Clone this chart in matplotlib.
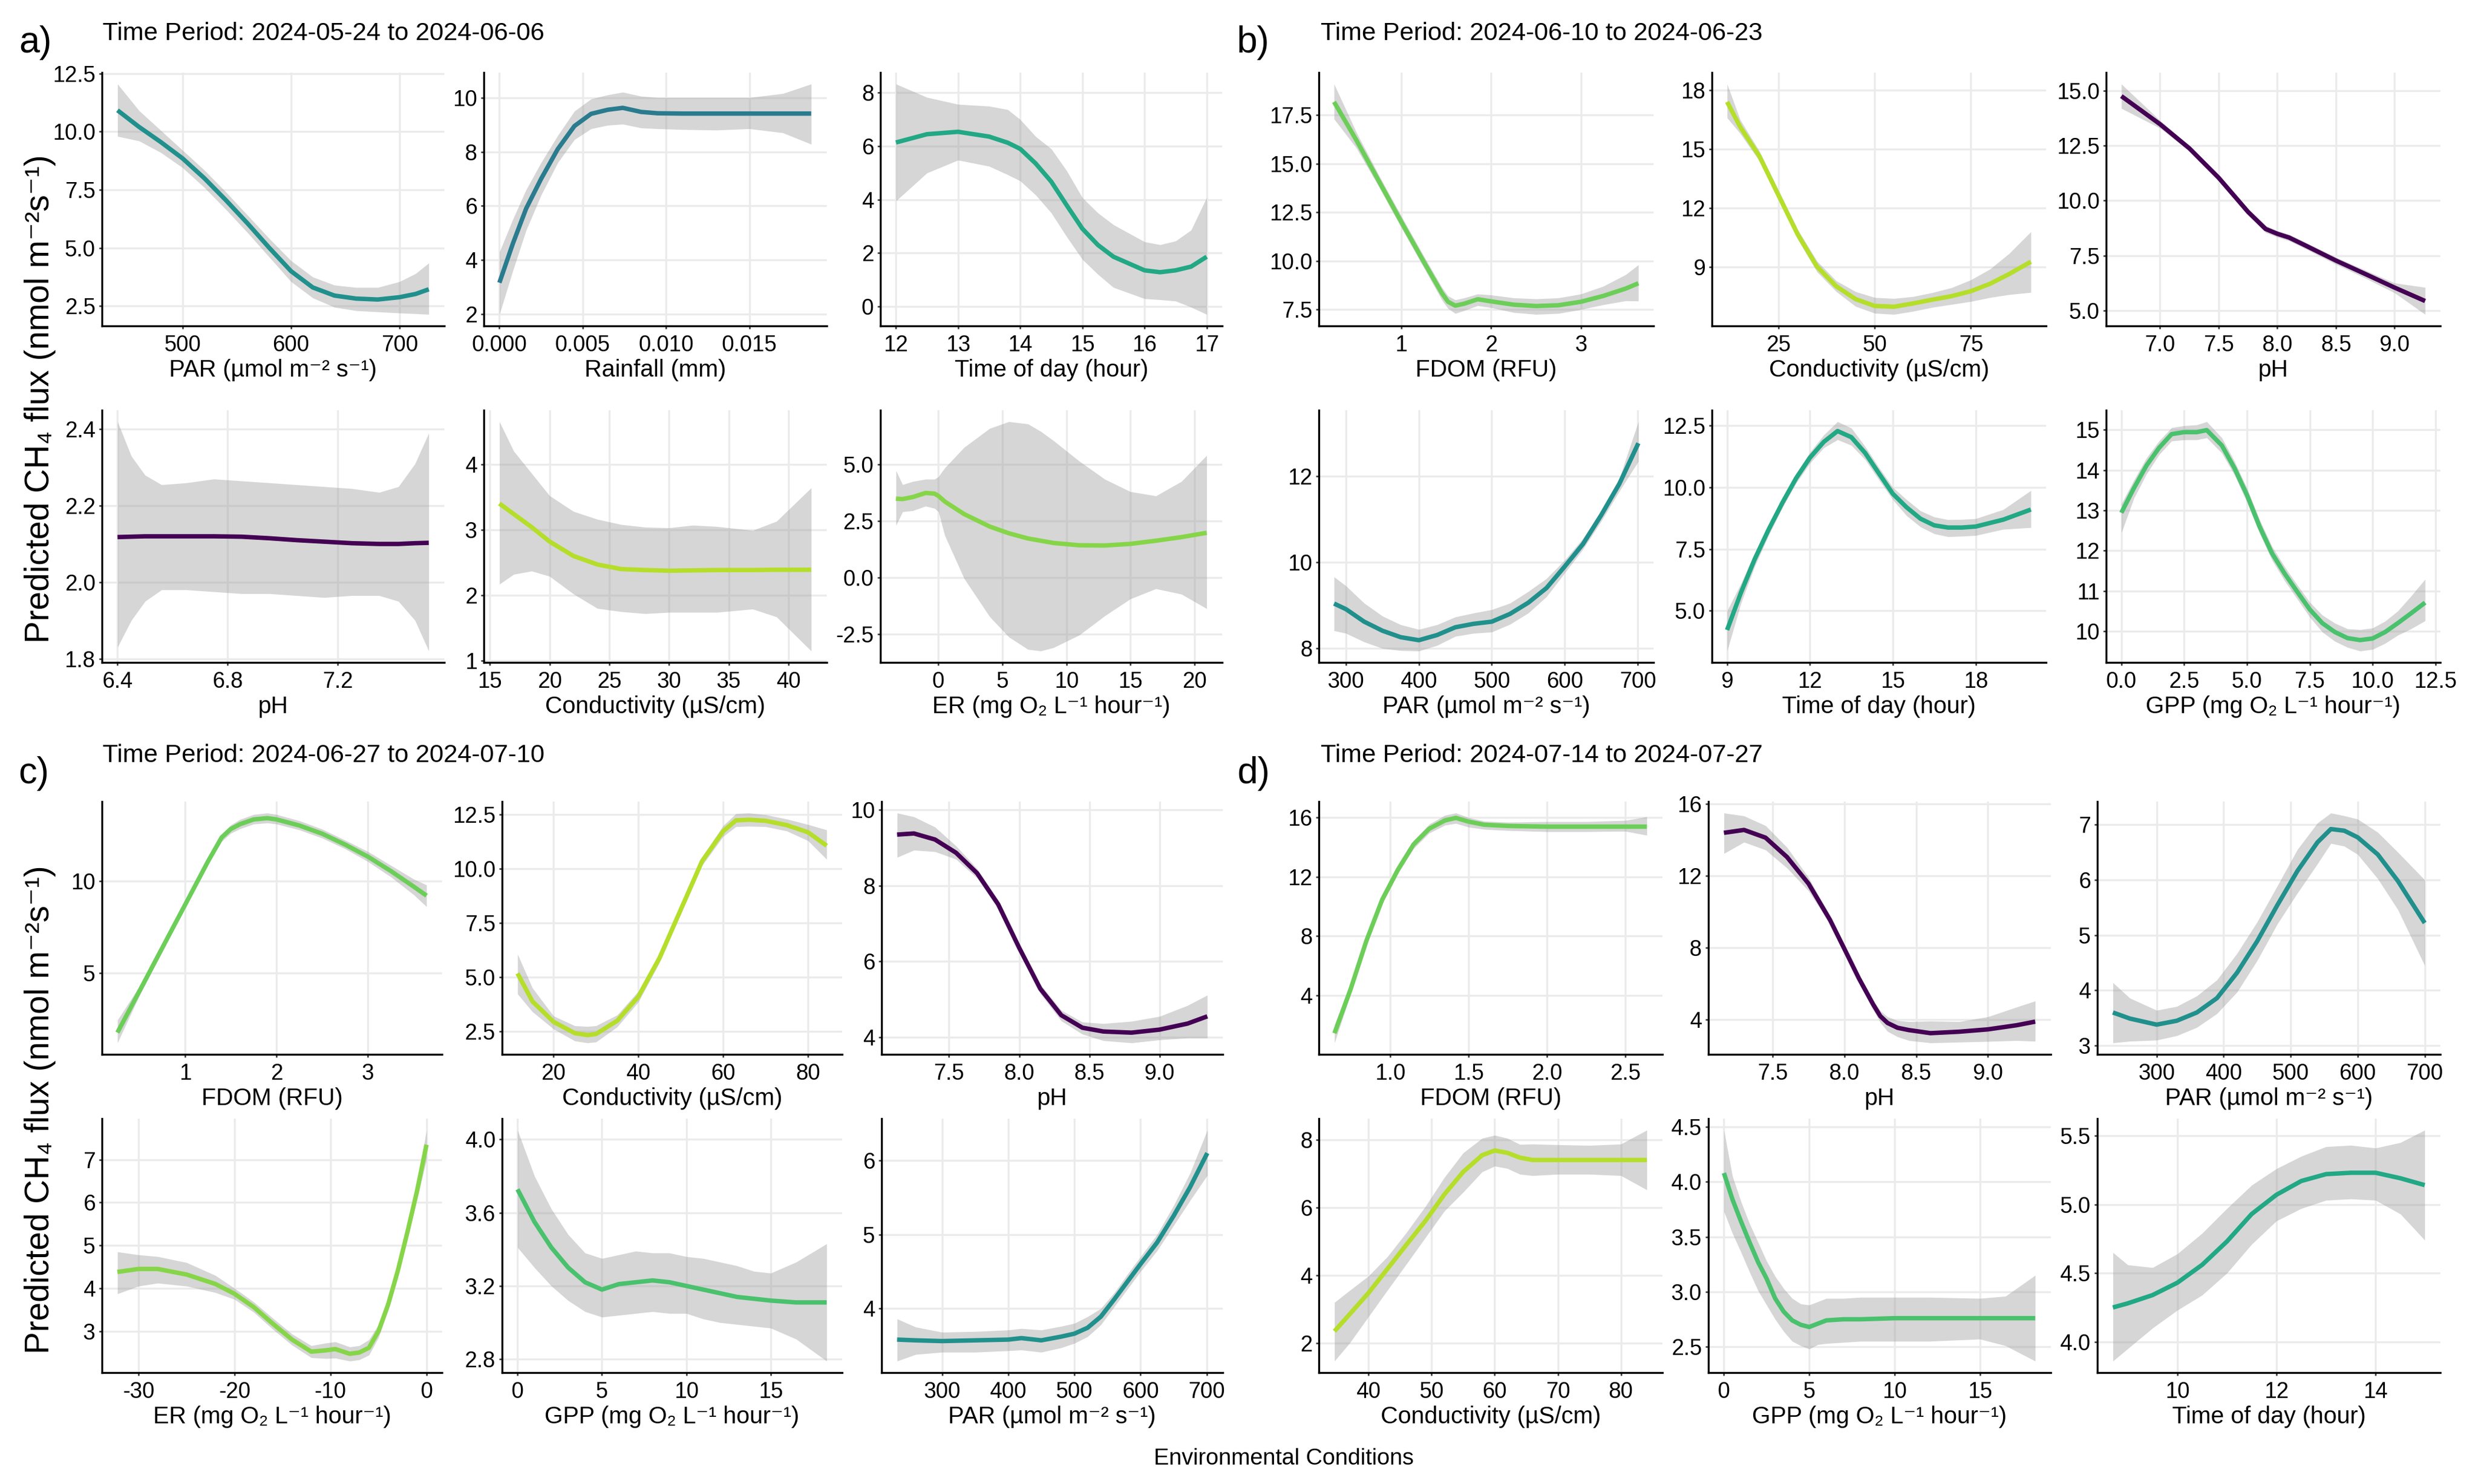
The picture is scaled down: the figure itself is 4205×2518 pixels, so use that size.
import matplotlib
matplotlib.use('Agg')
import matplotlib.pyplot as plt
from matplotlib.ticker import FixedLocator, FuncFormatter

plt.rcParams['font.family'] = ['Liberation Sans', 'DejaVu Sans']

# ---------------- data ----------------
# a) 2024-05-24 to 2024-06-06
a_par_x = [440, 460, 480, 500, 520, 540, 560, 580, 600, 620, 640, 660, 680, 700, 715, 727]
a_par_y = [10.92, 10.2, 9.55, 8.85, 8.0, 7.05, 6.05, 5.0, 4.0, 3.3, 2.95, 2.82, 2.78, 2.88, 3.02, 3.22]
a_par_hi = [12.05, 10.9, 10.05, 9.2, 8.35, 7.4, 6.4, 5.4, 4.45, 3.75, 3.4, 3.3, 3.3, 3.55, 3.9, 4.35]
a_par_lo = [9.8, 9.6, 9.1, 8.45, 7.6, 6.65, 5.65, 4.6, 3.55, 2.85, 2.45, 2.3, 2.25, 2.2, 2.17, 2.14]

a_rain_x = [0, 0.0008, 0.0016, 0.0025, 0.0035, 0.0045, 0.0055, 0.0065, 0.0074, 0.0085, 0.0095, 0.011, 0.013, 0.015, 0.017, 0.0187]
a_rain_y = [3.17, 4.6, 5.9, 7.0, 8.1, 8.95, 9.4, 9.55, 9.62, 9.47, 9.42, 9.41, 9.41, 9.41, 9.41, 9.41]
a_rain_hi = [4.3, 5.5, 6.6, 7.6, 8.6, 9.5, 9.95, 10.1, 10.2, 10.05, 10.0, 10.0, 10.0, 10.0, 10.15, 10.5]
a_rain_lo = [2.0, 3.6, 5.1, 6.4, 7.6, 8.45, 8.85, 8.98, 9.02, 8.88, 8.85, 8.82, 8.8, 8.85, 8.7, 8.28]

a_time_x = [12, 12.5, 13, 13.5, 13.8, 14, 14.25, 14.5, 14.75, 15, 15.25, 15.5, 16, 16.25, 16.5, 16.75, 17]
a_time_y = [6.14, 6.45, 6.54, 6.36, 6.13, 5.9, 5.35, 4.67, 3.78, 2.91, 2.3, 1.86, 1.35, 1.28, 1.35, 1.49, 1.86]
a_time_hi = [8.33, 7.83, 7.57, 7.5, 7.37, 7.0, 6.36, 5.9, 5.07, 4.07, 3.5, 3.06, 2.42, 2.31, 2.45, 2.86, 4.08]
a_time_lo = [3.95, 5.0, 5.48, 5.25, 4.93, 4.7, 4.17, 3.5, 2.6, 1.76, 1.2, 0.71, 0.29, 0.25, 0.2, -0.03, -0.3]

a_ph_x = [6.40, 6.45, 6.50, 6.56, 6.65, 6.75, 6.85, 6.95, 7.05, 7.15, 7.25, 7.35, 7.42, 7.48, 7.53]
a_ph_y = [2.118, 2.119, 2.12, 2.12, 2.12, 2.12, 2.119, 2.115, 2.11, 2.106, 2.102, 2.1, 2.1, 2.102, 2.103]
a_ph_hi = [2.42, 2.33, 2.28, 2.255, 2.26, 2.27, 2.265, 2.26, 2.255, 2.25, 2.245, 2.235, 2.25, 2.31, 2.39]
a_ph_lo = [1.83, 1.9, 1.95, 1.98, 1.98, 1.975, 1.97, 1.97, 1.965, 1.96, 1.965, 1.965, 1.95, 1.9, 1.82]

a_cond_x = [15.8, 17, 18.5, 20, 22, 24, 26, 28, 30, 32, 34, 37, 39, 41.9]
a_cond_y = [3.40, 3.24, 3.04, 2.82, 2.6, 2.47, 2.4, 2.385, 2.375, 2.38, 2.385, 2.385, 2.39, 2.39]
a_cond_hi = [4.65, 4.2, 3.86, 3.52, 3.28, 3.16, 3.08, 3.04, 3.03, 3.07, 3.05, 2.99, 3.13, 3.64]
a_cond_lo = [2.17, 2.32, 2.37, 2.29, 2.02, 1.8, 1.75, 1.72, 1.74, 1.74, 1.74, 1.79, 1.67, 1.15]

a_er_x = [-3.32, -2.8, -2.0, -1.0, -0.3, 0, 0.5, 2, 4, 5.5, 7, 8, 9, 11, 13, 15, 17, 19, 20.97]
a_er_y = [3.48, 3.46, 3.55, 3.73, 3.70, 3.6, 3.35, 2.8, 2.25, 1.95, 1.72, 1.62, 1.52, 1.42, 1.41, 1.48, 1.62, 1.78, 1.97]
a_er_hi = [4.72, 4.1, 4.24, 4.34, 4.34, 4.45, 4.84, 5.74, 6.58, 6.88, 6.78, 6.45, 6.04, 5.14, 4.34, 3.79, 3.6, 4.24, 5.39]
a_er_lo = [2.3, 2.9, 2.95, 3.15, 3.05, 2.9, 1.85, -0.04, -1.73, -2.63, -3.18, -3.25, -3.1, -2.55, -1.7, -0.95, -0.5, -0.74, -1.38]

# b) 2024-06-10 to 2024-06-23
b_fdom_x = [0.25, 0.5, 0.75, 1.0, 1.25, 1.45, 1.52, 1.6, 1.7, 1.85, 2.0, 2.25, 2.5, 2.75, 3.0, 3.25, 3.5, 3.64]
b_fdom_y = [18.18, 16.2, 14.1, 12.0, 9.95, 8.35, 7.9, 7.7, 7.8, 8.03, 7.92, 7.75, 7.68, 7.72, 7.9, 8.2, 8.58, 8.85]
b_fdom_hi = [19.1, 16.6, 14.4, 12.3, 10.25, 8.65, 8.2, 8.0, 8.1, 8.3, 8.25, 8.1, 8.05, 8.1, 8.3, 8.7, 9.3, 9.8]
b_fdom_lo = [17.3, 15.8, 13.8, 11.7, 9.65, 8.0, 7.55, 7.3, 7.45, 7.7, 7.6, 7.35, 7.25, 7.3, 7.5, 7.75, 7.95, 7.94]

b_cond_x = [11.6, 15, 20, 25, 30, 35, 40, 45, 50, 55, 60, 65, 70, 75, 80, 85, 90.6]
b_cond_y = [17.41, 16.14, 14.64, 12.64, 10.65, 9.02, 8.02, 7.37, 7.02, 6.98, 7.15, 7.34, 7.52, 7.77, 8.15, 8.65, 9.27]
b_cond_hi = [18.32, 16.5, 14.9, 12.9, 10.9, 9.3, 8.3, 7.75, 7.45, 7.4, 7.5, 7.7, 7.95, 8.35, 8.9, 9.7, 10.8]
b_cond_lo = [16.6, 15.8, 14.4, 12.4, 10.4, 8.75, 7.75, 7.0, 6.65, 6.59, 6.75, 6.95, 7.1, 7.25, 7.45, 7.6, 7.71]

b_ph_x = [6.67, 7.0, 7.25, 7.5, 7.75, 7.9, 8.0, 8.1, 8.25, 8.5, 8.75, 9.0, 9.26]
b_ph_y = [14.76, 13.48, 12.38, 11.04, 9.49, 8.71, 8.49, 8.32, 7.93, 7.27, 6.66, 6.04, 5.43]
b_ph_hi = [15.31, 13.65, 12.5, 11.18, 9.63, 8.87, 8.63, 8.46, 8.08, 7.42, 6.83, 6.25, 6.05]
b_ph_lo = [14.2, 13.3, 12.26, 10.9, 9.35, 8.55, 8.34, 8.17, 7.78, 7.1, 6.47, 5.8, 4.82]

b_par_x = [283.7, 300, 325, 350, 375, 400, 425, 450, 475, 500, 525, 550, 575, 600, 625, 650, 675, 701]
b_par_y = [9.04, 8.91, 8.62, 8.41, 8.26, 8.19, 8.31, 8.49, 8.57, 8.62, 8.8, 9.06, 9.4, 9.9, 10.42, 11.09, 11.82, 12.76]
b_par_hi = [9.66, 9.45, 9.05, 8.75, 8.55, 8.44, 8.55, 8.73, 8.82, 8.9, 9.05, 9.32, 9.62, 10.05, 10.55, 11.2, 11.95, 13.26]
b_par_lo = [8.41, 8.35, 8.15, 8.0, 7.95, 7.94, 8.07, 8.28, 8.35, 8.38, 8.56, 8.82, 9.2, 9.75, 10.3, 10.95, 11.65, 12.34]

b_time_x = [9, 9.5, 10, 10.5, 11, 11.5, 12, 12.5, 13, 13.5, 14, 14.5, 15, 15.5, 16, 16.5, 17, 17.5, 18, 19, 20]
b_time_y = [4.22, 5.73, 7.09, 8.28, 9.37, 10.37, 11.2, 11.84, 12.28, 12.03, 11.39, 10.56, 9.74, 9.19, 8.73, 8.46, 8.37, 8.37, 8.41, 8.69, 9.1]
b_time_hi = [5.0, 6.1, 7.35, 8.5, 9.57, 10.57, 11.42, 12.12, 12.66, 12.4, 11.65, 10.8, 10.0, 9.5, 9.05, 8.8, 8.69, 8.7, 8.73, 9.1, 9.87]
b_time_lo = [3.37, 5.3, 6.8, 8.05, 9.17, 10.17, 10.98, 11.6, 11.93, 11.7, 11.12, 10.3, 9.5, 8.85, 8.4, 8.12, 8.0, 8.02, 8.05, 8.3, 8.37]

b_gpp_x = [0, 0.5, 1, 1.5, 2, 2.5, 3, 3.4, 4, 4.5, 5, 5.5, 6, 6.5, 7, 7.5, 8, 8.5, 9, 9.5, 10, 10.5, 11, 11.5, 12.09]
b_gpp_y = [12.94, 13.55, 14.11, 14.55, 14.89, 14.94, 14.94, 14.99, 14.61, 14.05, 13.38, 12.6, 11.93, 11.43, 10.98, 10.54, 10.2, 9.98, 9.83, 9.78, 9.82, 9.98, 10.2, 10.43, 10.71]
b_gpp_hi = [13.16, 13.75, 14.3, 14.72, 15.05, 15.1, 15.12, 15.2, 14.8, 14.22, 13.55, 12.77, 12.1, 11.6, 11.15, 10.72, 10.4, 10.2, 10.06, 10.04, 10.08, 10.25, 10.5, 10.85, 11.29]
b_gpp_lo = [12.44, 13.3, 13.9, 14.38, 14.72, 14.75, 14.75, 14.8, 14.42, 13.88, 13.2, 12.43, 11.76, 11.25, 10.8, 10.35, 9.98, 9.75, 9.6, 9.51, 9.55, 9.7, 9.9, 10.05, 10.26]

# c) 2024-06-27 to 2024-07-10
c_fdom_x = [0.26, 0.5, 0.75, 1.0, 1.25, 1.4, 1.5, 1.6, 1.75, 1.9, 2.0, 2.25, 2.5, 2.75, 3.0, 3.25, 3.5, 3.64]
c_fdom_y = [1.74, 3.99, 6.35, 8.7, 11.06, 12.37, 12.83, 13.09, 13.35, 13.42, 13.35, 13.02, 12.57, 11.98, 11.32, 10.54, 9.69, 9.2]
c_fdom_hi = [2.42, 4.25, 6.55, 8.85, 11.2, 12.55, 13.05, 13.35, 13.62, 13.7, 13.62, 13.28, 12.82, 12.22, 11.6, 10.85, 10.1, 9.78]
c_fdom_lo = [1.18, 3.75, 6.15, 8.55, 10.92, 12.15, 12.6, 12.84, 13.1, 13.16, 13.1, 12.78, 12.33, 11.75, 11.05, 10.22, 9.25, 8.6]

c_cond_x = [11.5, 15, 20, 25, 28, 30, 35, 40, 45, 50, 55, 60, 63, 66, 70, 75, 80, 84.4]
c_cond_y = [5.17, 3.88, 2.93, 2.41, 2.32, 2.37, 2.98, 4.1, 5.89, 8.12, 10.35, 11.74, 12.24, 12.27, 12.22, 12.02, 11.69, 11.07]
c_cond_hi = [6.06, 4.5, 3.2, 2.75, 2.72, 2.75, 3.25, 4.35, 6.1, 8.32, 10.55, 12.0, 12.55, 12.58, 12.5, 12.3, 12.05, 11.8]
c_cond_lo = [4.22, 3.4, 2.6, 2.05, 1.96, 2.0, 2.7, 3.85, 5.68, 7.92, 10.15, 11.5, 11.95, 11.97, 11.95, 11.75, 11.3, 10.44]

c_ph_x = [7.13, 7.25, 7.4, 7.55, 7.7, 7.85, 8.0, 8.15, 8.3, 8.45, 8.6, 8.8, 9.0, 9.2, 9.34]
c_ph_y = [9.35, 9.38, 9.22, 8.87, 8.33, 7.51, 6.36, 5.28, 4.58, 4.25, 4.15, 4.12, 4.2, 4.36, 4.55]
c_ph_hi = [9.92, 9.82, 9.55, 9.05, 8.45, 7.62, 6.45, 5.4, 4.71, 4.4, 4.36, 4.42, 4.55, 4.84, 5.11]
c_ph_lo = [8.75, 8.94, 8.9, 8.7, 8.2, 7.4, 6.27, 5.15, 4.43, 4.08, 3.91, 3.85, 3.93, 3.98, 3.98]

c_er_x = [-32.2, -30, -28, -25, -22, -20, -18, -16, -14, -12, -10.5, -9.5, -8, -7, -6, -5, -4, -3, -2, -1, 0]
c_er_y = [4.38, 4.45, 4.45, 4.32, 4.1, 3.87, 3.56, 3.17, 2.8, 2.52, 2.55, 2.58, 2.47, 2.5, 2.61, 3.0, 3.62, 4.4, 5.3, 6.26, 7.35]
c_er_hi = [4.85, 4.78, 4.74, 4.6, 4.3, 4.0, 3.68, 3.3, 2.93, 2.66, 2.72, 2.75, 2.63, 2.66, 2.8, 3.15, 3.76, 4.55, 5.45, 6.45, 7.69]
c_er_lo = [3.87, 4.05, 4.12, 4.05, 3.9, 3.74, 3.44, 3.04, 2.67, 2.38, 2.36, 2.37, 2.3, 2.33, 2.44, 2.85, 3.48, 4.25, 5.15, 6.07, 7.0]

c_gpp_x = [0, 1, 2, 3, 4, 5, 6, 7, 8, 9, 10, 11, 12, 13, 14, 15, 16.5, 18.31]
c_gpp_y = [3.727, 3.55, 3.41, 3.30, 3.22, 3.18, 3.21, 3.22, 3.23, 3.22, 3.20, 3.18, 3.16, 3.14, 3.13, 3.12, 3.11, 3.11]
c_gpp_hi = [4.05, 3.8, 3.62, 3.48, 3.38, 3.35, 3.37, 3.39, 3.38, 3.38, 3.36, 3.35, 3.33, 3.31, 3.28, 3.27, 3.33, 3.43]
c_gpp_lo = [3.41, 3.30, 3.2, 3.12, 3.06, 3.03, 3.04, 3.05, 3.06, 3.05, 3.05, 3.02, 3.0, 2.99, 2.98, 2.97, 2.91, 2.79]

c_par_x = [232, 260, 300, 350, 400, 420, 450, 480, 500, 520, 540, 560, 580, 600, 625, 650, 675, 701]
c_par_y = [3.58, 3.57, 3.56, 3.57, 3.58, 3.60, 3.57, 3.62, 3.66, 3.74, 3.89, 4.12, 4.36, 4.6, 4.89, 5.25, 5.64, 6.1]
c_par_hi = [3.86, 3.75, 3.68, 3.69, 3.71, 3.73, 3.71, 3.76, 3.8, 3.89, 4.0, 4.21, 4.46, 4.7, 5.0, 5.39, 5.83, 6.41]
c_par_lo = [3.29, 3.38, 3.41, 3.41, 3.43, 3.44, 3.41, 3.47, 3.53, 3.62, 3.78, 4.02, 4.26, 4.5, 4.78, 5.12, 5.46, 5.8]

# d) 2024-07-14 to 2024-07-27
d_fdom_x = [0.646, 0.75, 0.85, 0.95, 1.05, 1.15, 1.25, 1.35, 1.42, 1.5, 1.6, 1.75, 2.0, 2.25, 2.5, 2.636]
d_fdom_y = [1.43, 4.44, 7.69, 10.45, 12.47, 14.18, 15.24, 15.8, 15.97, 15.72, 15.51, 15.43, 15.38, 15.38, 15.38, 15.38]
d_fdom_hi = [2.0, 4.8, 8.0, 10.75, 12.75, 14.45, 15.55, 16.15, 16.3, 16.0, 15.75, 15.68, 15.72, 15.72, 15.8, 16.05]
d_fdom_lo = [0.78, 4.1, 7.4, 10.15, 12.2, 13.9, 14.95, 15.48, 15.6, 15.35, 15.2, 15.12, 15.04, 15.04, 15.07, 14.8]

d_ph_x = [7.16, 7.3, 7.45, 7.6, 7.75, 7.9, 8.0, 8.1, 8.2, 8.25, 8.3, 8.37, 8.45, 8.6, 8.8, 9.0, 9.2, 9.33]
d_ph_y = [14.39, 14.55, 14.12, 13.04, 11.56, 9.54, 7.93, 6.31, 4.85, 4.2, 3.82, 3.55, 3.42, 3.25, 3.33, 3.46, 3.69, 3.89]
d_ph_hi = [15.49, 15.33, 14.79, 13.58, 11.9, 9.78, 8.15, 6.55, 5.1, 4.5, 4.16, 3.95, 3.89, 3.92, 3.89, 4.16, 4.7, 5.04]
d_ph_lo = [13.24, 13.87, 13.44, 12.43, 11.16, 9.3, 7.7, 6.05, 4.55, 3.85, 3.35, 3.05, 2.84, 2.71, 2.75, 2.79, 2.84, 2.8]

d_par_x = [234.7, 260, 300, 330, 360, 390, 420, 450, 480, 510, 540, 560, 580, 600, 630, 660, 700]
d_par_y = [3.6, 3.49, 3.38, 3.45, 3.6, 3.86, 4.32, 4.89, 5.54, 6.16, 6.68, 6.92, 6.89, 6.77, 6.46, 5.98, 5.22]
d_par_hi = [4.14, 3.86, 3.64, 3.71, 3.9, 4.19, 4.67, 5.24, 5.89, 6.55, 7.03, 7.21, 7.16, 7.1, 6.86, 6.5, 6.0]
d_par_lo = [3.05, 3.08, 3.1, 3.18, 3.33, 3.58, 3.97, 4.54, 5.2, 5.76, 6.29, 6.66, 6.61, 6.46, 6.02, 5.46, 4.45]

d_cond_x = [34.6, 37, 40, 43, 46, 49, 52, 55, 58, 60, 62, 64, 66, 70, 75, 80, 84.1]
d_cond_y = [2.35, 2.85, 3.48, 4.19, 4.9, 5.6, 6.38, 7.05, 7.54, 7.68, 7.61, 7.47, 7.4, 7.4, 7.4, 7.4, 7.4]
d_cond_hi = [3.2, 3.55, 3.98, 4.55, 5.26, 6.03, 6.88, 7.61, 8.04, 8.13, 8.04, 7.86, 7.87, 7.85, 7.83, 7.87, 8.28]
d_cond_lo = [1.47, 2.0, 2.78, 3.56, 4.33, 5.11, 5.89, 6.45, 7.05, 7.22, 7.15, 6.98, 6.94, 6.98, 6.98, 6.94, 6.52]

d_gpp_x = [0, 0.5, 1, 1.5, 2, 2.5, 3, 3.5, 4, 4.5, 5, 5.5, 6, 7, 8, 10, 12, 15, 16.5, 18.24]
d_gpp_y = [4.08, 3.84, 3.64, 3.45, 3.27, 3.12, 2.94, 2.82, 2.74, 2.7, 2.68, 2.71, 2.74, 2.75, 2.75, 2.76, 2.76, 2.76, 2.76, 2.76]
d_gpp_hi = [4.47, 4.05, 3.82, 3.62, 3.45, 3.28, 3.14, 3.03, 2.94, 2.89, 2.88, 2.91, 2.94, 2.94, 2.95, 2.95, 2.95, 2.94, 2.96, 3.15]
d_gpp_lo = [3.73, 3.53, 3.36, 3.18, 3.01, 2.88, 2.75, 2.64, 2.55, 2.51, 2.48, 2.52, 2.53, 2.54, 2.55, 2.55, 2.55, 2.57, 2.51, 2.37]

d_time_x = [8.7, 9.0, 9.5, 10, 10.5, 11, 11.5, 12, 12.5, 13, 13.5, 14, 14.5, 14.99]
d_time_y = [4.25, 4.28, 4.34, 4.43, 4.56, 4.73, 4.93, 5.07, 5.17, 5.22, 5.23, 5.23, 5.19, 5.14]
d_time_hi = [4.65, 4.56, 4.54, 4.64, 4.79, 4.97, 5.14, 5.26, 5.35, 5.42, 5.43, 5.41, 5.45, 5.54]
d_time_lo = [3.86, 3.95, 4.1, 4.23, 4.34, 4.5, 4.71, 4.88, 4.97, 5.03, 5.04, 5.03, 4.93, 4.74]

periods = {'a': 'Time Period: 2024-05-24 to 2024-06-06',
           'b': 'Time Period: 2024-06-10 to 2024-06-23',
           'c': 'Time Period: 2024-06-27 to 2024-07-10',
           'd': 'Time Period: 2024-07-14 to 2024-07-27'}

xlabels = {'PAR': 'PAR (µmol m⁻² s⁻¹)', 'Rain': 'Rainfall (mm)', 'Time': 'Time of day (hour)',
           'pH': 'pH', 'Cond': 'Conductivity (µS/cm)', 'ER': 'ER (mg O₂ L⁻¹ hour⁻¹)',
           'FDOM': 'FDOM (RFU)', 'GPP': 'GPP (mg O₂ L⁻¹ hour⁻¹)'}

colors = {'PAR': '#21908C', 'Rain': '#2A7B8E', 'Time': '#22A884', 'pH': '#440154',
          'Cond': '#B5DE2B', 'ER': '#86D549', 'FDOM': '#6CCE59', 'GPP': '#4AC16D'}

# (group, row, col, x, y, lo, hi, variable, x ticks, x fmt, y ticks, y fmt)
panels = [
    ('a', 0, 0, a_par_x, a_par_y, a_par_lo, a_par_hi, 'PAR', [500, 600, 700], '{:.0f}', [2.5, 5, 7.5, 10, 12.5], '{:.1f}'),
    ('a', 0, 1, a_rain_x, a_rain_y, a_rain_lo, a_rain_hi, 'Rain', [0, 0.005, 0.01, 0.015], '{:.3f}', [2, 4, 6, 8, 10], '{:.0f}'),
    ('a', 0, 2, a_time_x, a_time_y, a_time_lo, a_time_hi, 'Time', [12, 13, 14, 15, 16, 17], '{:.0f}', [0, 2, 4, 6, 8], '{:.0f}'),
    ('a', 1, 0, a_ph_x, a_ph_y, a_ph_lo, a_ph_hi, 'pH', [6.4, 6.8, 7.2], '{:.1f}', [1.8, 2.0, 2.2, 2.4], '{:.1f}'),
    ('a', 1, 1, a_cond_x, a_cond_y, a_cond_lo, a_cond_hi, 'Cond', [15, 20, 25, 30, 35, 40], '{:.0f}', [1, 2, 3, 4], '{:.0f}'),
    ('a', 1, 2, a_er_x, a_er_y, a_er_lo, a_er_hi, 'ER', [0, 5, 10, 15, 20], '{:.0f}', [-2.5, 0, 2.5, 5], '{:.1f}'),
    ('b', 0, 0, b_fdom_x, b_fdom_y, b_fdom_lo, b_fdom_hi, 'FDOM', [1, 2, 3], '{:.0f}', [7.5, 10, 12.5, 15, 17.5], '{:.1f}'),
    ('b', 0, 1, b_cond_x, b_cond_y, b_cond_lo, b_cond_hi, 'Cond', [25, 50, 75], '{:.0f}', [6, 9, 12, 15, 18], '{:.0f}'),
    ('b', 0, 2, b_ph_x, b_ph_y, b_ph_lo, b_ph_hi, 'pH', [7.0, 7.5, 8.0, 8.5, 9.0], '{:.1f}', [5, 7.5, 10, 12.5, 15], '{:.1f}'),
    ('b', 1, 0, b_par_x, b_par_y, b_par_lo, b_par_hi, 'PAR', [300, 400, 500, 600, 700], '{:.0f}', [8, 10, 12], '{:.0f}'),
    ('b', 1, 1, b_time_x, b_time_y, b_time_lo, b_time_hi, 'Time', [9, 12, 15, 18], '{:.0f}', [5, 7.5, 10, 12.5], '{:.1f}'),
    ('b', 1, 2, b_gpp_x, b_gpp_y, b_gpp_lo, b_gpp_hi, 'GPP', [0, 2.5, 5, 7.5, 10, 12.5], '{:.1f}', [10, 11, 12, 13, 14, 15], '{:.0f}'),
    ('c', 0, 0, c_fdom_x, c_fdom_y, c_fdom_lo, c_fdom_hi, 'FDOM', [1, 2, 3], '{:.0f}', [5, 10], '{:.0f}'),
    ('c', 0, 1, c_cond_x, c_cond_y, c_cond_lo, c_cond_hi, 'Cond', [20, 40, 60, 80], '{:.0f}', [2.5, 5, 7.5, 10, 12.5], '{:.1f}'),
    ('c', 0, 2, c_ph_x, c_ph_y, c_ph_lo, c_ph_hi, 'pH', [7.5, 8.0, 8.5, 9.0], '{:.1f}', [4, 6, 8, 10], '{:.0f}'),
    ('c', 1, 0, c_er_x, c_er_y, c_er_lo, c_er_hi, 'ER', [-30, -20, -10, 0], '{:.0f}', [3, 4, 5, 6, 7], '{:.0f}'),
    ('c', 1, 1, c_gpp_x, c_gpp_y, c_gpp_lo, c_gpp_hi, 'GPP', [0, 5, 10, 15], '{:.0f}', [2.8, 3.2, 3.6, 4.0], '{:.1f}'),
    ('c', 1, 2, c_par_x, c_par_y, c_par_lo, c_par_hi, 'PAR', [300, 400, 500, 600, 700], '{:.0f}', [4, 5, 6], '{:.0f}'),
    ('d', 0, 0, d_fdom_x, d_fdom_y, d_fdom_lo, d_fdom_hi, 'FDOM', [1.0, 1.5, 2.0, 2.5], '{:.1f}', [4, 8, 12, 16], '{:.0f}'),
    ('d', 0, 1, d_ph_x, d_ph_y, d_ph_lo, d_ph_hi, 'pH', [7.5, 8.0, 8.5, 9.0], '{:.1f}', [4, 8, 12, 16], '{:.0f}'),
    ('d', 0, 2, d_par_x, d_par_y, d_par_lo, d_par_hi, 'PAR', [300, 400, 500, 600, 700], '{:.0f}', [3, 4, 5, 6, 7], '{:.0f}'),
    ('d', 1, 0, d_cond_x, d_cond_y, d_cond_lo, d_cond_hi, 'Cond', [40, 50, 60, 70, 80], '{:.0f}', [2, 4, 6, 8], '{:.0f}'),
    ('d', 1, 1, d_gpp_x, d_gpp_y, d_gpp_lo, d_gpp_hi, 'GPP', [0, 5, 10, 15], '{:.0f}', [2.5, 3.0, 3.5, 4.0, 4.5], '{:.1f}'),
    ('d', 1, 2, d_time_x, d_time_y, d_time_lo, d_time_hi, 'Time', [10, 12, 14], '{:.0f}', [4.0, 4.5, 5.0, 5.5], '{:.1f}'),
]

# ---------------- layout (pixels of the 4205 x 2518 canvas) ----------------
W, H = 4205, 2518
DPI = 300
cols = {'a': [(173, 754), (821, 1403), (1494, 2074)],
        'b': [(2238, 2806), (2905, 3472), (3574, 4141)],
        'c': [(173, 750), (852, 1429), (1496, 2075)],
        'd': [(2238, 2821), (2899, 3480), (3559, 4141)]}
rows = {'a': [(123, 553), (696, 1124)], 'b': [(123, 553), (696, 1124)],
        'c': [(1360, 1789), (1898, 2329)], 'd': [(1360, 1789), (1898, 2329)]}

fig = plt.figure(figsize=(W / DPI, H / DPI), dpi=DPI)

for g, r, c, x, y, lo, hi, var, xt, xf, yt, yf in panels:
    left, right = cols[g][c]
    top, bottom = rows[g][r]
    ax = fig.add_axes([left / W, 1 - bottom / H, (right - left) / W, (bottom - top) / H])
    ax.fill_between(x, lo, hi, color='#999999', alpha=0.4, linewidth=0, zorder=2)
    ax.plot(x, y, color=colors[var], linewidth=1.8, zorder=3,
            solid_capstyle='butt', solid_joinstyle='round')
    ax.xaxis.set_major_locator(FixedLocator(xt))
    ax.yaxis.set_major_locator(FixedLocator(yt))
    ax.xaxis.set_major_formatter(FuncFormatter(lambda v, p, f=xf: f.format(v)))
    ax.yaxis.set_major_formatter(FuncFormatter(lambda v, p, f=yf: f.format(v)))
    ax.grid(True, color='#EBEBEB', linewidth=0.8)
    ax.set_axisbelow(True)
    for s in ['top', 'right']:
        ax.spines[s].set_visible(False)
    for s in ['left', 'bottom']:
        ax.spines[s].set_linewidth(0.8)
    ax.tick_params(axis='both', length=1.3, width=0.6, color='#333333', labelsize=9, labelcolor='black')
    ax.tick_params(axis='x', pad=2.4)
    ax.tick_params(axis='y', pad=1.4)
    ax.set_xlabel(xlabels[var], fontsize=9.7, labelpad=1)

# panel letters and period titles
letters = {'a': (60, 73), 'b': (2127, 73), 'c': (57, 1313), 'd': (2127, 1313)}
titles = {'a': (174, 68), 'b': (2241, 68), 'c': (174, 1293), 'd': (2241, 1293)}
for k in 'abcd':
    lx, ly = letters[k]
    fig.text(lx / W, 1 - ly / H, k + ')', fontsize=15, ha='center', va='center')
    tx, ty = titles[k]
    fig.text(tx / W, 1 - ty / H, periods[k], fontsize=10.3, ha='left', va='baseline')

ylab = 'Predicted CH₄ flux (nmol m⁻²s⁻¹)'
fig.text(68 / W, 1 - 677 / H, ylab, fontsize=13.6, rotation=90, ha='center', va='center')
fig.text(68 / W, 1 - 1883 / H, ylab, fontsize=13.6, rotation=90, ha='center', va='center')
fig.text(2178 / W, 1 - 2475 / H, 'Environmental Conditions', fontsize=9.3, ha='center', va='center')

fig.savefig('out.png', dpi=DPI)
plt.close(fig)
